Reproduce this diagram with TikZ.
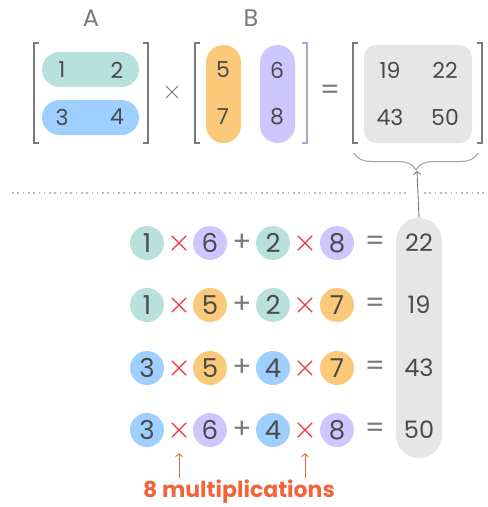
\documentclass[tikz,border=0pt]{standalone}
\usepackage{fontspec}
\setmainfont{Poppins}
\usetikzlibrary{arrows.meta, positioning, decorations.pathreplacing, shapes.misc}
\definecolor{Cteal}{HTML}{B8E0DC}
\definecolor{Cblue}{HTML}{9FCFFF}
\definecolor{Corange}{HTML}{FAC97A}
\definecolor{Cviolet}{HTML}{CDC6FF}
\definecolor{Cgray}{HTML}{E6E6E6}
\definecolor{Cink}{HTML}{4A4A4A}
\definecolor{Crule}{HTML}{7A7A7A}
\definecolor{Cmul}{HTML}{EE3344}
\definecolor{Cnote}{HTML}{F2643A}
\tikzset{
  entry/.style={inner sep=0pt, text=Cink, font=\fontsize{22}{22}\selectfont},
  pill/.style={fill=#1, rounded corners=17.5pt, inner sep=0pt, minimum width=35pt},
  resbox/.style={fill=Cgray, rounded corners=12pt, inner sep=0pt},
  bracket/.style={draw=Crule, line width=1.3pt},
  mlabel/.style={text=Crule, font=\fontsize{24}{24}\selectfont},
  topop/.style={text=Crule, font=\fontsize{28}{28}\selectfont},
  topmul/.style={cross out, draw=Crule, line width=1pt, minimum size=11pt, inner sep=0pt},
  circ/.style={circle, fill=#1, minimum size=34pt, inner sep=0pt, text=Cink,
    font=\fontsize{26}{26}\selectfont},
  mulop/.style={cross out, draw=Cmul, line width=1.3pt, minimum size=13pt, inner sep=0pt},
  addop/.style={text=Crule, minimum size=20pt, inner sep=0pt,
    font=\fontsize{28}{28}\selectfont},
  resval/.style={text=Cink, inner sep=0pt, font=\fontsize{24}{24}\selectfont},
  arr/.style={-{Straight Barb[length=3pt, width=7pt]}, line width=0.9pt},
}

\begin{document}
\begin{tikzpicture}[x=1pt, y=-1pt]
\useasboundingbox (0,0) rectangle (488,507);

%%==========================================================================
%% TOP — the matrix product A x B = C
%%==========================================================================

\node[mlabel] (labA) at (91,18) {A};
\node[mlabel] (labB) at (251,18) {B};

% row pills of A, column pills of B, result block
\node[pill=Cteal, minimum width=97pt, minimum height=35pt] (pA1) at (90.5,69.5) {};
\node[pill=Cblue, minimum width=97pt, minimum height=35pt] (pA2) at (90.5,117.5) {};
\node[pill=Corange, minimum height=98pt] (pB1) at (223.5,94) {};
\node[pill=Cviolet, minimum height=98pt] (pB2) at (277.5,94) {};
\node[resbox, minimum width=108pt, minimum height=98pt] (pC) at (418,94) {};

\node[entry] (a11) at (62,70) {1};
\node[entry] (a12) at (117,70) {2};
\node[entry] (a21) at (62,117) {3};
\node[entry] (a22) at (117,117) {4};

\node[entry] (b11) at (223,70) {5};
\node[entry] (b21) at (223,117) {7};
\node[entry] (b12) at (277,70) {6};
\node[entry] (b22) at (277,117) {8};

\node[entry] (c11) at (390,70) {19};
\node[entry] (c12) at (445,70) {22};
\node[entry] (c21) at (390,117) {43};
\node[entry] (c22) at (445,117) {50};

\node[topmul] (times) at (172,92) {};
\node[topop] (equals) at (330,92) {=};

% brackets
\draw[bracket] (39,43) -- (34,43) -- (34,143) -- (39,143);
\draw[bracket] (143,43) -- (148,43) -- (148,143) -- (143,143);
\draw[bracket] (200,43) -- (195,43) -- (195,143) -- (200,143);
\draw[bracket, draw=Cviolet!60!Crule] (302,43) -- (307,43) -- (307,143) -- (302,143);
\draw[bracket] (358,43) -- (353,43) -- (353,143) -- (358,143);
\draw[bracket] (477,43) -- (482,43) -- (482,143) -- (477,143);

% brace under the result
\draw[draw=Crule!70, line width=1pt, decorate, decoration={brace, amplitude=17pt}]
  (478,153) -- (354,153);
\coordinate (bracetip) at (417,171);

% separator
\draw[Crule!50, line width=1.6pt, dash pattern=on 1.6pt off 3.7pt] (12,193) -- (409,193);
\draw[Crule!50, line width=1.6pt, dash pattern=on 1.6pt off 3.7pt] (424,193) -- (488,193);

%%==========================================================================
%% BOTTOM — one row of products per entry of C
%%==========================================================================

\node[resbox, rounded corners=23pt, minimum width=46pt, minimum height=240pt] (colC) at (419,338) {};

\node[circ=Cteal] (r1a) at (147,243) {1};
\node[mulop] (r1m1) at (179,243) {};
\node[circ=Cviolet] (r1b) at (210,243) {6};
\node[addop] (r1p) at (242,243) {+};
\node[circ=Cteal] (r1c) at (273,243) {2};
\node[mulop] (r1m2) at (305,243) {};
\node[circ=Cviolet] (r1d) at (337,243) {8};
\node[addop] (r1e) at (375,243) {=};
\node[resval] (r1v) at (419,243) {22};

\node[circ=Cteal] (r2a) at (147,305) {1};
\node[mulop] (r2m1) at (179,305) {};
\node[circ=Corange] (r2b) at (210,305) {5};
\node[addop] (r2p) at (242,305) {+};
\node[circ=Cteal] (r2c) at (273,305) {2};
\node[mulop] (r2m2) at (305,305) {};
\node[circ=Corange] (r2d) at (337,305) {7};
\node[addop] (r2e) at (375,305) {=};
\node[resval] (r2v) at (419,305) {19};

\node[circ=Cblue] (r3a) at (147,368) {3};
\node[mulop] (r3m1) at (179,368) {};
\node[circ=Corange] (r3b) at (210,368) {5};
\node[addop] (r3p) at (242,368) {+};
\node[circ=Cblue] (r3c) at (273,368) {4};
\node[mulop] (r3m2) at (305,368) {};
\node[circ=Corange] (r3d) at (337,368) {7};
\node[addop] (r3e) at (375,368) {=};
\node[resval] (r3v) at (419,368) {43};

\node[circ=Cblue] (r4a) at (147,430) {3};
\node[mulop] (r4m1) at (179,430) {};
\node[circ=Cviolet] (r4b) at (210,430) {6};
\node[addop] (r4p) at (242,430) {+};
\node[circ=Cblue] (r4c) at (273,430) {4};
\node[mulop] (r4m2) at (305,430) {};
\node[circ=Cviolet] (r4d) at (337,430) {8};
\node[addop] (r4e) at (375,430) {=};
\node[resval] (r4v) at (419,430) {50};

\node[text=Cnote, inner sep=0pt, anchor=base, font=\fontsize{22}{22}\selectfont\bfseries]
  (multlabel) at (239,497) {8 multiplications};

%%==========================================================================
%% ARROWS
%%==========================================================================

\draw[arr, Crule] (colC.north) -- (bracetip);
\draw[arr, Cnote, shorten >=16pt, shorten <=1pt] (multlabel.north -| r4m1) -- (r4m1.south);
\draw[arr, Cnote, shorten >=16pt, shorten <=1pt] (multlabel.north -| r4m2) -- (r4m2.south);

\end{tikzpicture}
\end{document}
